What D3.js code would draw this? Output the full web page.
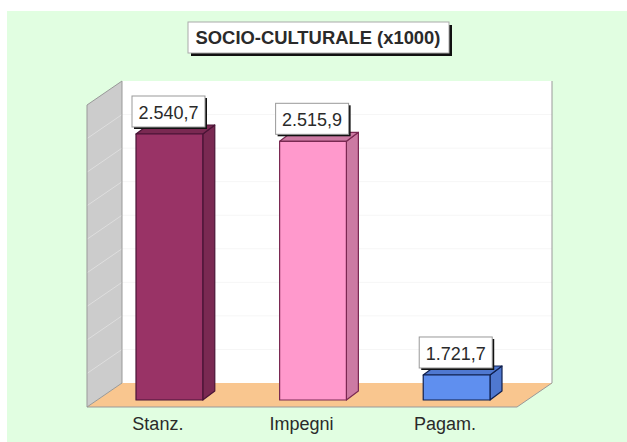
<!DOCTYPE html>
<html><head><meta charset="utf-8">
<script src="https://cdn.jsdelivr.net/npm/d3@7"></script>
<style>html,body{margin:0;padding:0;background:#fff}svg{display:block}text{font-family:"Liberation Sans",Arial,sans-serif;fill:#2a2a2a}</style>
</head><body><svg id="c" width="627" height="442"></svg>
<script>
const categories = ["Stanz.", "Impegni", "Pagam."];
const values = [2540.7, 2515.9, 1721.7];
const valueLabels = ["2.540,7", "2.515,9", "1.721,7"];
const frontColors = ["#993366", "#FF99CC", "#5F8FEF"];
const sideColors = ["#7A2952", "#CC7AA3", "#4F78D0"];
const gridSteps = [1,2,3,4,5,6,7,8];
const titleText = "SOCIO-CULTURALE (x1000)";

const svg = d3.select("#c");
svg.append("rect").attr("width",627).attr("height",442).attr("fill","#fff");
svg.append("rect").attr("x",7).attr("y",11).attr("width",620).attr("height",431).attr("fill","#E1FEE1");

const wall = {l:122,r:552,t:81,b:383}, dx=35, dy=24, bdx=12, bdy=9;
const x = d3.scaleBand().domain(categories).range([136,490]).paddingInner(0.535).paddingOuter(0);
const y = d3.scaleLinear().domain([1636.7,2540.7]).range([400,134]);
const g = d3.scaleLinear().domain([0,9]).range([wall.b,wall.t]);
const path = d3.line();

// walls
svg.append("rect").attr("x",wall.l).attr("y",wall.t).attr("width",wall.r-wall.l).attr("height",wall.b-wall.t).attr("fill","#fff");
svg.append("path").attr("d",path([[wall.l,wall.t],[wall.l,wall.b],[wall.l-dx,wall.b+dy],[wall.l-dx,wall.t+dy]])+"Z").attr("fill","#CCCCCC");
svg.append("path").attr("d",path([[wall.l,wall.b],[wall.r,wall.b],[wall.r-dx,wall.b+dy],[wall.l-dx,wall.b+dy]])+"Z").attr("fill","#F9C68F");
// grid
svg.selectAll(".gb").data(gridSteps).join("line").attr("x1",wall.l).attr("x2",wall.r).attr("y1",g).attr("y2",g).attr("stroke","#F6F6F6");
svg.selectAll(".gs").data(gridSteps).join("line").attr("x1",wall.l).attr("x2",wall.l-dx).attr("y1",g).attr("y2",d=>g(d)+dy).attr("stroke","#DEDEDE");
// wall edges
svg.append("path").attr("d",path([[wall.l-dx,wall.t+dy],[wall.l,wall.t],[wall.l,wall.b],[wall.l-dx,wall.b+dy]])).attr("fill","none").attr("stroke","#999");
svg.append("path").attr("d",path([[wall.l-dx,wall.t+dy],[wall.l-dx,wall.b+dy],[wall.r-dx,wall.b+dy],[wall.r,wall.b],[wall.r,wall.t]])).attr("fill","none").attr("stroke","#999");

// bars
const bars = svg.selectAll(".bar").data(categories).join("g");
bars.each(function(c,i){
  const s=d3.select(this), l=x(c), r=l+x.bandwidth(), t=y(values[i]), b=y.range()[0];
  const add=(pts,f)=>s.append("path").attr("d",path(pts)+"Z").attr("fill",f).attr("stroke",i==2?"#10204F":i==1?"#7A2952":"#4A1436").attr("stroke-width",1.2).attr("stroke-linejoin","round");
  add([[r,t],[r+bdx,t-bdy],[r+bdx,b-bdy],[r,b]],sideColors[i]);
  add([[l,t],[l+bdx,t-bdy],[r+bdx,t-bdy],[r,t]],sideColors[i]);
  add([[l,t],[r,t],[r,b],[l,b]],frontColors[i]);
  s.append("text").attr("x",(l+r)/2-11.5).attr("y",430).attr("text-anchor","middle").attr("font-size",18).text(c);
  // value label
  const lw=73,lh=31,lx=l-4,ly=t-38;
  s.append("rect").attr("x",lx+2).attr("y",ly+2).attr("width",lw).attr("height",lh).attr("fill","#111");
  s.append("rect").attr("x",lx).attr("y",ly).attr("width",lw).attr("height",lh).attr("fill","#fff").attr("stroke","#999");
  s.append("text").attr("x",lx+lw/2).attr("y",ly+23).attr("text-anchor","middle").attr("font-size",18).text(valueLabels[i]);
});

// title
svg.append("rect").attr("x",191).attr("y",25).attr("width",261).attr("height",31).attr("fill","#111");
svg.append("rect").attr("x",188).attr("y",22).attr("width",261).attr("height",31).attr("fill","#fff").attr("stroke","#aaa");
svg.append("text").attr("x",318).attr("y",44).attr("text-anchor","middle").attr("font-size",18.4).attr("font-weight","bold").text(titleText);
</script></body></html>
